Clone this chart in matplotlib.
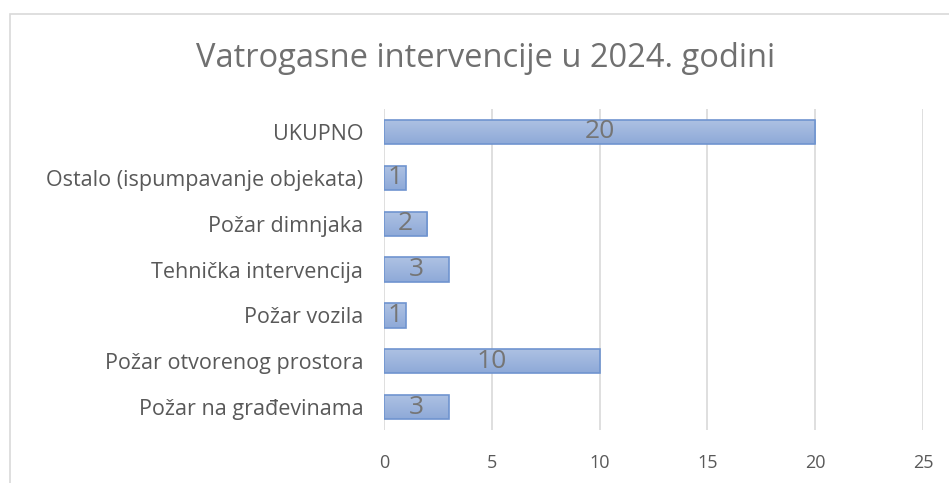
import numpy as np
import matplotlib
matplotlib.use('Agg')
from matplotlib import pyplot as plt
from matplotlib.patches import Rectangle
from matplotlib.colors import LinearSegmentedColormap

categories = ['Požar na građevinama', 'Požar otvorenog prostora', 'Požar vozila',
              'Tehnička intervencija', 'Požar dimnjaka',
              'Ostalo (ispumpavanje objekata)', 'UKUPNO']
values = [3, 10, 1, 3, 2, 1, 20]
x_ticks = [0, 5, 10, 15, 20, 25]
title = 'Vatrogasne intervencije u 2024. godini'

plt.rcParams['font.family'] = ['Open Sans', 'DejaVu Sans']
gray = '#595959'

fig = plt.figure(figsize=(9.49, 4.83), dpi=100)
# chart frame
fig.patches.append(Rectangle((0.0105, -0.05), 1.2, 0.971 + 0.05, transform=fig.transFigure,
                             fill=False, edgecolor='#d9d9d9', linewidth=1.2))
ax = fig.add_axes([0.4046, 0.1097, 0.5680, 0.6646])

y = np.arange(len(categories))
bars = ax.barh(y, values, height=0.53, color='none', edgecolor='#6f94cf', linewidth=1.2, zorder=3)

# gradient fill clipped to each bar
cmap = LinearSegmentedColormap.from_list('grad', ['#8ea9d8', '#aec2e3'])
grad = np.linspace(0, 1, 64).reshape(-1, 1)
for b in bars:
    x0, y0 = b.get_x(), b.get_y()
    w, h = b.get_width(), b.get_height()
    im = ax.imshow(grad, extent=(x0, x0 + w, y0, y0 + h), origin='lower', aspect='auto',
                   cmap=cmap, zorder=2)
    im.set_clip_path(b)

for b, v in zip(bars, values):
    ax.text(b.get_x() + b.get_width() / 2, b.get_y() + b.get_height() / 2, str(v),
            ha='center', va='center', fontsize=19, color='#757575', zorder=4)

ax.set_xlim(0, 25)
ax.set_ylim(-0.5, len(categories) - 0.5)
ax.set_xticks(x_ticks)
ax.set_yticks(y)
ax.set_yticklabels(categories)
ax.xaxis.grid(True, color='#d9d9d9', linewidth=1.2)
ax.set_axisbelow(True)
for s in ax.spines.values():
    s.set_visible(False)
ax.tick_params(axis='both', length=0, labelcolor=gray)
ax.tick_params(axis='x', pad=17, labelsize=13)
ax.tick_params(axis='y', pad=15, labelsize=15.5)

fig.text(0.512, 0.861, title, ha='center', va='baseline', fontsize=23.5, color='#707070')

plt.savefig('out.png', dpi=100)
